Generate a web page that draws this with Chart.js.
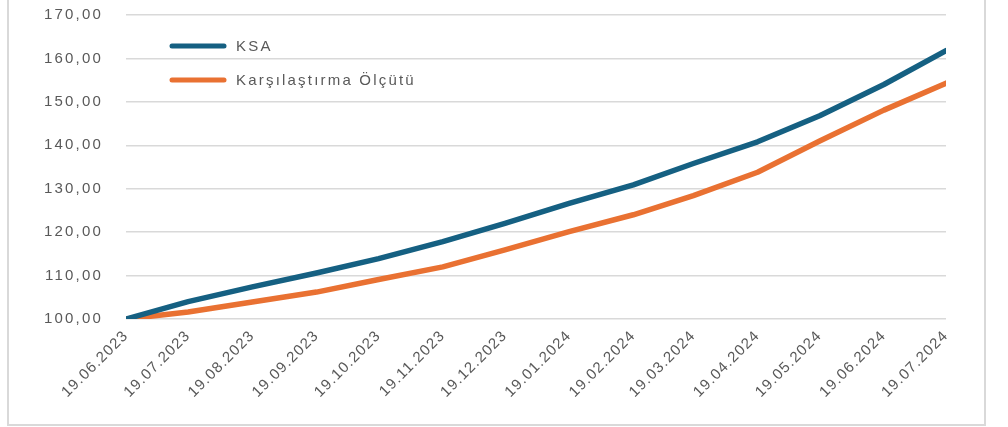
<!DOCTYPE html>
<html>
<head>
<meta charset="utf-8">
<script src="https://cdn.jsdelivr.net/npm/chart.js@4"></script>
<style>
  html, body { margin: 0; padding: 0; background: #fff; overflow: hidden; }
  #wrap { position: relative; width: 1008px; height: 427px; }
  #frame { position: absolute; left: 7px; top: -6px; width: 979px; height: 432px; border: 2px solid #d9d9d9; box-sizing: border-box; }
  #box { position: absolute; left: 0; top: 0; width: 1008px; height: 427px; }
</style>
</head>
<body>
<div id="wrap">
  <div id="frame"></div>
  <div id="box"><canvas id="chart"></canvas></div>
</div>
<script>
// monthly observation dates (also the x tick labels)
const dates = ['19.06.2023', '19.07.2023', '19.08.2023', '19.09.2023', '19.10.2023', '19.11.2023', '19.12.2023',
               '19.01.2024', '19.02.2024', '19.03.2024', '19.04.2024', '19.05.2024', '19.06.2024', '19.07.2024'];
const ksa = [100.0, 104.0, 107.4, 110.6, 113.9, 117.8, 122.0, 126.6, 130.9, 135.8, 140.8, 146.8, 154.0, 161.8];
const benchmark = [100.0, 101.6, 103.9, 106.2, 109.1, 112.0, 115.9, 120.1, 124.0, 128.4, 133.8, 141.0, 148.1, 154.3];
const seriesNames = ['KSA', 'Karşılaştırma Ölçütü'];
const colors = ['#156082', '#E97132'];

const textColor = '#595959';
const fontFamily = '"Liberation Sans", Arial, sans-serif';

// days since first date, for the linear x axis
const toDay = s => {
    const [d, m, y] = s.split('.').map(Number);
    return Date.UTC(y, m - 1, d) / 86400000;
};
const day0 = toDay(dates[0]);
const dayOffsets = dates.map(s => toDay(s) - day0);

// wider letter spacing on the tick labels
const spaced = (sc, px) => {
    if (!sc || sc._spaced) return;
    const orig = sc.drawLabels;
    sc.drawLabels = function (area) {
        const ctx = this.ctx;
        ctx.save();
        ctx.letterSpacing = px;
        orig.call(this, area);
        ctx.restore();
    };
    sc._spaced = true;
};
const labelSpacing = {
    id: 'labelSpacing',
    beforeDraw(chart) {
        spaced(chart.scales.x, '1.2px');
        spaced(chart.scales.y, '2.2px');
    }
};

// legend drawn inside the plot, top-left
const innerLegend = {
    id: 'innerLegend',
    afterDraw(chart) {
        const ctx = chart.ctx;
        ctx.save();
        ctx.letterSpacing = '2.2px';
        chart.data.datasets.forEach((ds, i) => {
            const y = 46 + i * 34;
            ctx.strokeStyle = ds.borderColor;
            ctx.lineWidth = 5;
            ctx.lineCap = 'round';
            ctx.beginPath();
            ctx.moveTo(172, y);
            ctx.lineTo(224, y);
            ctx.stroke();
            ctx.fillStyle = textColor;
            ctx.font = '15px ' + fontFamily;
            ctx.textBaseline = 'middle';
            ctx.textAlign = 'left';
            ctx.fillText(ds.label, 236, y + 1);
        });
        ctx.restore();
    }
};

const makeSeries = vals => vals.map((v, i) => ({ x: dayOffsets[i], y: v }));

new Chart(document.getElementById('chart'), {
    type: 'line',
    data: {
        datasets: [
            { label: seriesNames[0], data: makeSeries(ksa), borderColor: colors[0], backgroundColor: colors[0] },
            { label: seriesNames[1], data: makeSeries(benchmark), borderColor: colors[1], backgroundColor: colors[1] }
        ]
    },
    options: {
        responsive: true,
        maintainAspectRatio: false,
        animation: false,
        layout: { padding: { left: 0, right: 62, top: 15, bottom: 0 } },
        elements: {
            point: { radius: 0 },
            line: { borderWidth: 5.5, tension: 0, borderCapStyle: 'round', borderJoinStyle: 'round' }
        },
        plugins: {
            legend: { display: false },
            tooltip: { enabled: false }
        },
        scales: {
            x: {
                type: 'linear',
                min: dayOffsets[0],
                max: dayOffsets[dayOffsets.length - 1],
                grid: { display: false, drawTicks: false },
                border: { display: false },
                afterBuildTicks: scale => { scale.ticks = dayOffsets.map(v => ({ value: v })); },
                afterFit: scale => { scale.height = 108; },
                ticks: {
                    autoSkip: false,
                    minRotation: 45,
                    maxRotation: 45,
                    padding: 8,
                    color: textColor,
                    font: { family: fontFamily, size: 15 },
                    callback: value => dates[dayOffsets.indexOf(value)]
                }
            },
            y: {
                min: 100,
                max: 170,
                grid: { color: '#d9d9d9', lineWidth: 1.5, drawTicks: false },
                border: { display: false },
                afterFit: scale => {
                    scale.width = 126;
                    scale.paddingTop = 0;
                    scale.paddingBottom = 0;
                },
                ticks: {
                    stepSize: 10,
                    padding: 23,
                    color: textColor,
                    font: { family: fontFamily, size: 15 },
                    callback: v => v.toFixed(2).replace('.', ',')
                }
            }
        }
    },
    plugins: [labelSpacing, innerLegend]
});
</script>
</body>
</html>
